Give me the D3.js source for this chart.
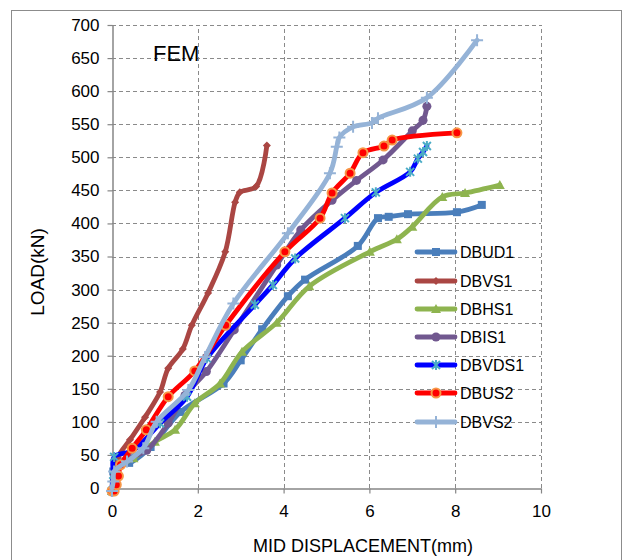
<!DOCTYPE html>
<html><head><meta charset="utf-8">
<script src="https://cdn.jsdelivr.net/npm/d3@7"></script>
<style>body{margin:0;background:#fff}svg{display:block}text{font-family:"Liberation Sans",Arial,sans-serif}</style>
</head><body><svg id="c" width="632" height="560"></svg>
<script>
const seriesNames = ["DBUD1","DBVS1","DBHS1","DBIS1","DBVDS1","DBUS2","DBVS2"];
const DBUD1 = [[0,0],[0.03,25],[0.1,42],[0.4,38],[0.9,62],[1.6,115],[2.6,158],[3.0,193],[3.5,240],[4.1,290],[4.5,315],[5.73,366],[6.2,408],[6.45,410],[6.9,414],[8.04,417],[8.62,428]];
const DBVS1 = [[0,0],[0.05,20],[0.14,47],[0.42,73],[0.77,107],[1.12,145],[1.31,181],[1.65,210],[1.86,246],[2.24,295],[2.64,357],[2.87,432],[2.98,447],[3.36,456],[3.61,518]];
const DBHS1 = [[0,0],[0.05,15],[0.1,30],[0.5,45],[1.0,70],[1.47,88],[1.93,128],[2.52,158],[3.03,206],[3.84,250],[4.6,305],[6.01,357],[6.64,376],[7.0,395],[7.7,440],[8.23,446],[9.04,458]];
const DBIS1 = [[0,0],[0.05,10],[0.1,30],[0.4,45],[0.81,57],[1.31,98],[1.7,140],[2.2,176],[2.85,239],[3.84,337],[4.4,390],[5.13,435],[5.7,465],[6.32,496],[7.0,540],[7.25,556],[7.34,577]];
const DBVDS1 = [[0,0],[0.03,20],[0.05,47],[0.5,57],[1.12,98],[1.75,138],[2.21,196],[3.33,277],[3.75,307],[4.27,347],[5.43,408],[6.15,447],[6.95,478],[7.13,498],[7.25,508],[7.34,517]];
const DBUS2 = [[0,0],[0.05,0],[0.1,5],[0.15,18],[0.2,35],[0.47,60],[0.8,88],[1.31,138],[1.93,177],[2.65,246],[4.03,357],[4.85,408],[5.13,446],[5.55,476],[5.85,507],[6.34,517],[6.53,526],[8.04,537]];
const DBVS2 = [[0,0],[0.03,10],[0.05,25],[0.35,40],[0.73,60],[1.04,100],[1.78,148],[2.17,198],[2.83,279],[4.1,385],[5.08,476],[5.24,516],[5.3,530],[5.62,546],[6.06,552],[6.2,559],[7.34,590],[8.51,677]];
const seriesData = [DBUD1,DBVS1,DBHS1,DBIS1,DBVDS1,DBUS2,DBVS2];
const xTicks = [0,2,4,6,8,10];
const yTicks = d3.range(0,701,50);

const lineColors = ["#4A7EBB","#AA4643","#8EB44F","#71588F","#0000FF","#FF0000","#95B3D7"];
const markerFill = ["#4A7EBB","#AA4643","#8EB44F","#71588F","#4BACC6","#FF0000","#95B3D7"];
const markerKind = ["square","diamond","triangle","circle","asterisk","ocircle","plus"];

const svg = d3.select("#c");
const x = d3.scaleLinear().domain([0,10]).range([112,541]);
const y = d3.scaleLinear().domain([0,700]).range([488,25]);

svg.append("rect").attr("x",11.5).attr("y",10.5).attr("width",610).attr("height",600).attr("fill","none").attr("stroke","#8c8c8c");

const grid = svg.append("g");
grid.selectAll(".hg").data(yTicks.filter(d=>d>0)).join("line")
  .attr("x1",x(0)).attr("x2",x(10)).attr("y1",d=>Math.round(y(d))+0.5).attr("y2",d=>Math.round(y(d))+0.5)
  .attr("stroke","#8a8a8a").attr("stroke-dasharray","4,3");
grid.selectAll(".vg").data(xTicks.filter(d=>d>0)).join("line")
  .attr("y1",y(0)).attr("y2",y(700)).attr("x1",d=>Math.round(x(d))+0.5).attr("x2",d=>Math.round(x(d))+0.5)
  .attr("stroke","#8a8a8a").attr("stroke-dasharray","4,3");

const ya = svg.append("g").attr("transform",`translate(${Math.round(x(0))+0.5},0)`)
  .call(d3.axisLeft(y).tickValues(yTicks).tickSize(5).tickPadding(8).tickSizeOuter(0));
const xa = svg.append("g").attr("transform",`translate(0,${Math.round(y(0))+0.5})`)
  .call(d3.axisBottom(x).tickValues(xTicks).tickSize(5).tickPadding(11).tickSizeOuter(0));
[ya,xa].forEach(a=>{
  a.select(".domain").attr("stroke","#868686").attr("stroke-width",1.5);
  a.selectAll(".tick line").attr("stroke","#868686").attr("stroke-width",1.2);
  a.selectAll("text").attr("font-size",17).attr("fill","#000").attr("font-family","Liberation Sans, Arial, sans-serif");
});

svg.append("text").attr("x",363).attr("y",552).attr("text-anchor","middle").attr("font-size",18).text("MID DISPLACEMENT(mm)");
svg.append("text").attr("transform","translate(44,272) rotate(-90)").attr("text-anchor","middle").attr("font-size",19).text("LOAD(kN)");
svg.append("text").attr("x",153).attr("y",61).attr("font-size",22).text("FEM");

function drawMarker(g, kind, i, cx, cy){
  const c = markerFill[i];
  if(kind==="square") g.append("rect").attr("x",cx-4).attr("y",cy-4).attr("width",8).attr("height",8).attr("fill",c);
  else if(kind==="diamond") g.append("path").attr("d",`M${cx},${cy-4}L${cx+4},${cy}L${cx},${cy+4}L${cx-4},${cy}Z`).attr("fill",c);
  else if(kind==="triangle") g.append("path").attr("d",`M${cx},${cy-5}L${cx+5},${cy+4}L${cx-5},${cy+4}Z`).attr("fill",c);
  else if(kind==="circle") g.append("circle").attr("cx",cx).attr("cy",cy).attr("r",4.5).attr("fill",c);
  else if(kind==="asterisk"){
    g.append("path").attr("d",`M${cx-4},${cy-4}L${cx+4},${cy+4}M${cx-4},${cy+4}L${cx+4},${cy-4}M${cx},${cy-5}L${cx},${cy+5}`).attr("stroke",c).attr("stroke-width",2);
  } else if(kind==="ocircle") g.append("circle").attr("cx",cx).attr("cy",cy).attr("r",4.5).attr("fill","#FF0000").attr("stroke","#F79646").attr("stroke-width",2);
  else if(kind==="plus") g.append("path").attr("d",`M${cx-6},${cy}L${cx+6},${cy}M${cx},${cy-6}L${cx},${cy+6}`).attr("stroke",c).attr("stroke-width",2);
}

const line = d3.line().x(d=>x(d[0])).y(d=>y(d[1])).curve(d3.curveCatmullRom.alpha(0.5));
seriesData.forEach((data,i)=>{
  const g = svg.append("g");
  g.append("path").attr("d",line(data)).attr("fill","none").attr("stroke",lineColors[i]).attr("stroke-width",4.8).attr("stroke-linejoin","round").attr("stroke-linecap","round");
  data.forEach(d=>drawMarker(g, markerKind[i], i, x(d[0]), y(d[1])+(d[1]===0?3:0)));
});

const legY = [252,281,309,337,365,393,422];
seriesNames.forEach((n,i)=>{
  const g = svg.append("g");
  g.append("line").attr("x1",417).attr("x2",455).attr("y1",legY[i]).attr("y2",legY[i]).attr("stroke",lineColors[i]).attr("stroke-width",4.8).attr("stroke-linecap","round");
  drawMarker(g, markerKind[i], i, 436, legY[i]);
  g.append("text").attr("x",460).attr("y",legY[i]+6).attr("font-size",16).text(n);
});
</script></body></html>
